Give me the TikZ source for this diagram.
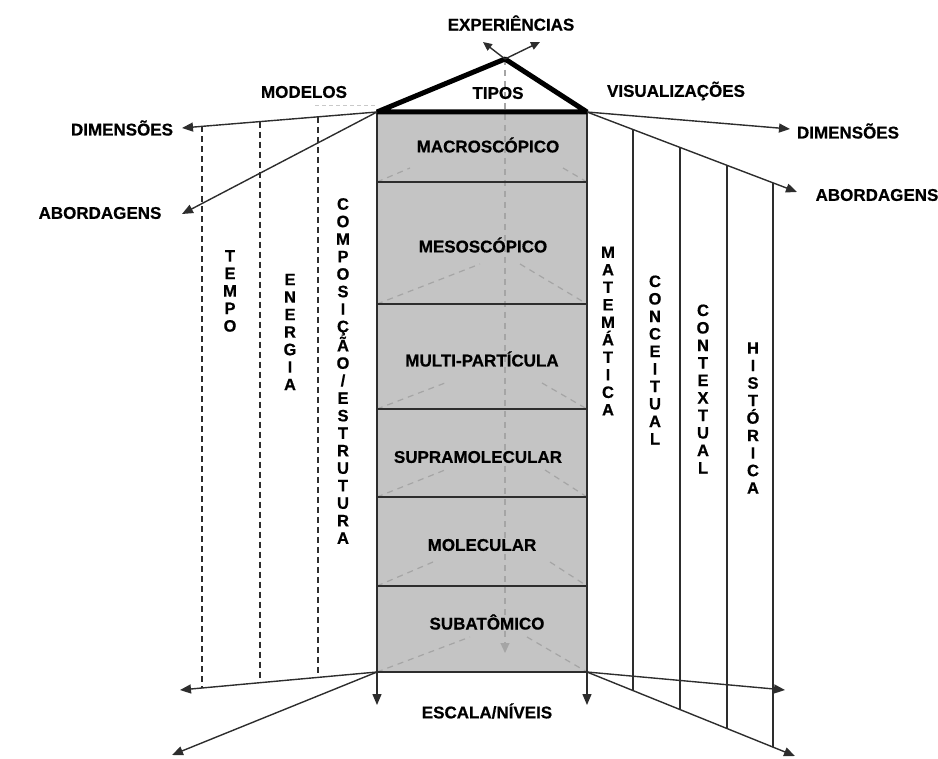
\documentclass[tikz,border=0pt]{standalone}
\usepackage{fontspec}
\setmainfont{Liberation Sans}[BoldFeatures={FakeBold=0.6}]
\usetikzlibrary{arrows.meta, calc, positioning}
\definecolor{boxgray}{RGB}{196,196,196}
\definecolor{darkline}{RGB}{45,45,45}
\definecolor{guidegray}{RGB}{165,165,165}

\tikzset{
  lbl/.style={font=\fontsize{17}{20}\selectfont\bfseries, inner sep=0pt},
  vlbl/.style={font=\fontsize{16.5}{17.5}\selectfont\bfseries, align=center, inner sep=0pt},
  arrowline/.style={->, line width=1.4pt, darkline},
  guide/.style={guidegray, line width=1.2pt, dash pattern=on 6pt off 5pt},
}

\begin{document}
\begin{tikzpicture}[x=1pt, y=-1pt, >={Triangle[length=11pt,width=9pt]}]
\useasboundingbox (0,0) rectangle (938,759);

% Corners of the column
\coordinate (tl) at (377,112);
\coordinate (tr) at (587,112);
\coordinate (bl) at (377,672);
\coordinate (br) at (587,672);
\coordinate (apex) at (505,59);

% Column
\fill[boxgray] (tl) rectangle (br);

% Gray guides
\draw[guide, ->, >={Triangle[length=10pt,width=9pt]}] (apex) -- (505,653);
\foreach \yb/\r/\xa/\xb in {182/14/410/563, 304/40/480/520, 409/26/445/542,
                            497/27/445/545, 586/24/433/550, 672/35/470/527}{
  \draw[guide] (377,\yb) -- (\xa,{\yb-\r});
  \draw[guide] (\xb,{\yb-\r}) -- (587,\yb);
}
\draw[guidegray!60, line width=0.8pt, dash pattern=on 4pt off 3pt] (315,105) -- (tl |- 0,105);

% Levels
\foreach \y in {182,304,409,497,586}
  \draw[darkline, line width=2pt] (377,\y) -- (587,\y);
\draw[darkline, line width=2pt] (tl) rectangle (br);

% Roof
\draw[black, line width=5pt, line join=bevel] (tl) -- (apex) -- (tr) -- cycle;

% Experiences
\coordinate (expL) at (483,42);
\coordinate (expR) at (540,42);
\draw[arrowline, >={Triangle[length=9pt,width=8pt]}] (apex) -- (expL);
\draw[arrowline, >={Triangle[length=9pt,width=8pt]}] (apex) -- (expR);

% Labels on top
\node[lbl] (exp) at (511,23) {EXPERIÊNCIAS};
\node[lbl] (tipos) at (498,93) {TIPOS};
\node[lbl] (modelos) at (304,92) {MODELOS};
\node[lbl] (visual) at (676,91) {VISUALIZAÇÕES};

% Side labels
\node[lbl] (dimL) at (122,128) {DIMENSÕES};
\node[lbl] (abL) at (100,213) {ABORDAGENS};
\node[lbl] (dimR) at (848,131) {DIMENSÕES};
\node[lbl] (abR) at (877,195) {ABORDAGENS};
\node[lbl] (escala) at (487,711) {ESCALA/NÍVEIS};

\coordinate (dimLtip) at (182,128);
\coordinate (abLtip) at (182,214);
\coordinate (dimRtip) at (790,129);
\coordinate (abRtip) at (797,192);

% Upper arrows
\draw[arrowline] (tl) -- (dimLtip);
\draw[arrowline] (tl) -- (abLtip);
\draw[arrowline] (tr) -- (dimRtip);
\draw[arrowline] (tr) -- (abRtip);

% Lower arrows
\coordinate (loL1) at (180,690);
\coordinate (loL2) at (172,755);
\coordinate (loR1) at (785,690);
\coordinate (loR2) at (795,756);
\coordinate (downL) at (377,705);
\coordinate (downR) at (587,705);
\draw[arrowline] (bl) -- (loL1);
\draw[arrowline] (bl) -- (loL2);
\draw[arrowline] (br) -- (loR1);
\draw[arrowline] (br) -- (loR2);
\draw[arrowline] (bl) -- (downL);
\draw[arrowline] (br) -- (downR);

% Models (dashed)
\foreach \x in {202,260,318}
  \draw[darkline, line width=1.6pt, dash pattern=on 6pt off 4pt]
    (\x,{112+(377-\x)*16/195}) -- (\x,{672+(377-\x)*18/197});

% Visualizations (solid)
\foreach \x in {633,680,727,773}
  \draw[darkline, line width=1.8pt]
    (\x,{112+(\x-587)*80/210}) -- (\x,{672+(\x-587)*84/208});

% Level names
\node[lbl] (macro) at (488,145) {MACROSCÓPICO};
\node[lbl] (meso) at (483,245) {MESOSCÓPICO};
\node[lbl] (multi) at (482,359) {MULTI-PARTÍCULA};
\node[lbl] (supra) at (478,457) {SUPRAMOLECULAR};
\node[lbl] (mol) at (482,545) {MOLECULAR};
\node[lbl] (sub) at (487,622) {SUBATÔMICO};

% Vertical labels
\node[vlbl] (tempo) at (230,291) {T\\E\\M\\P\\O};
\node[vlbl] (energia) at (290,332) {E\\N\\E\\R\\G\\I\\A};
\node[vlbl] (comp) at (343,371) {C\\O\\M\\P\\O\\S\\I\\Ç\\Ã\\O\\/\\E\\S\\T\\R\\U\\T\\U\\R\\A};
\node[vlbl] (mat) at (608,331) {M\\A\\T\\E\\M\\Á\\T\\I\\C\\A};
\node[vlbl] (conc) at (655,360) {C\\O\\N\\C\\E\\I\\T\\U\\A\\L};
\node[vlbl] (cont) at (703,389) {C\\O\\N\\T\\E\\X\\T\\U\\A\\L};
\node[vlbl] (hist) at (753,418) {H\\I\\S\\T\\Ó\\R\\I\\C\\A};
\end{tikzpicture}
\end{document}
